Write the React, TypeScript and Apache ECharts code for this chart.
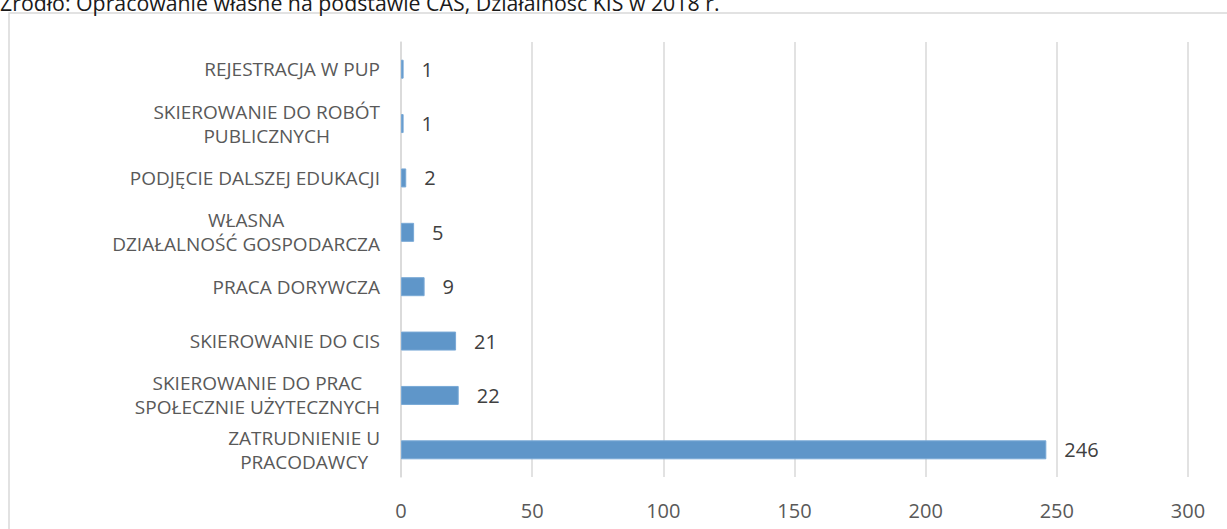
import React, { useEffect, useRef } from "react";
import * as echarts from "echarts";

const categories: string[] = [
  "REJESTRACJA W PUP",
  "SKIEROWANIE DO ROBÓT\nPUBLICZNYCH",
  "PODJĘCIE DALSZEJ EDUKACJI",
  "WŁASNA\nDZIAŁALNOŚĆ GOSPODARCZA",
  "PRACA DORYWCZA",
  "SKIEROWANIE DO CIS",
  "SKIEROWANIE DO PRAC\nSPOŁECZNIE UŻYTECZNYCH",
  "ZATRUDNIENIE U\nPRACODAWCY",
];
const values: number[] = [1, 1, 2, 5, 9, 21, 22, 246];
const xTicks = { min: 0, max: 300, interval: 50 };
const sourceText = "Źródło: Opracowanie własne na podstawie CAS, Działalność KIS w 2018 r.";

const FONT = "'Open Sans', 'DejaVu Sans', sans-serif";

export default function App() {
  const ref = useRef<HTMLDivElement>(null);
  useEffect(() => {
    if (!ref.current) return;
    const chart = echarts.init(ref.current, undefined, { renderer: "svg" });
    chart.setOption({
      animation: false,
      backgroundColor: "#ffffff",
      textStyle: { fontFamily: FONT },
      graphic: [
        {
          type: "rect",
          shape: { x: 9, y: 13, width: 1240, height: 540 },
          style: { fill: "none", stroke: "#d9d9d9", lineWidth: 1.5 },
          silent: true,
        },
        {
          type: "text",
          x: 0,
          y: 13,
          style: {
            text: sourceText,
            fontFamily: FONT,
            fontSize: 21.3,
            fill: "#1a1a1a",
            verticalAlign: "bottom",
          },
        },
      ],
      grid: { left: 401, right: 39, top: 42, bottom: 52, containLabel: false },
      xAxis: {
        type: "value",
        min: xTicks.min,
        max: xTicks.max,
        interval: xTicks.interval,
        axisLine: { show: false },
        axisTick: { show: false },
        axisLabel: { color: "#595959", fontSize: 20, margin: 23, fontFamily: FONT },
        splitLine: { lineStyle: { color: "#d9d9d9", width: 1.5 } },
      },
      yAxis: {
        type: "category",
        inverse: true,
        data: categories,
        axisLine: { show: true, lineStyle: { color: "#d9d9d9", width: 1.5 } },
        axisTick: { show: false },
        axisLabel: {
          margin: 21,
          color: "#595959",
          fontSize: 19,
          fontFamily: FONT,
          lineHeight: 24,
          formatter: (v: string) =>
            v
              .split("\n")
              .map((l) => `{c|${l}}`)
              .join("\n"),
          rich: {
            c: { align: "center", color: "#595959", fontSize: 19, lineHeight: 24, fontFamily: FONT },
          },
        },
      },
      series: [
        {
          type: "bar",
          data: values,
          barWidth: 19,
          itemStyle: { color: "#5f96c9", borderColor: "#79a9d6", borderWidth: 1 },
          label: {
            show: true,
            position: "right",
            distance: 18,
            color: "#404040",
            fontSize: 20,
            fontFamily: FONT,
          },
        },
      ],
    });
    return () => chart.dispose();
  }, []);
  return (
    <div
      ref={ref}
      style={{ position: "absolute", left: 0, top: 0, width: 1227, height: 529 }}
    />
  );
}
